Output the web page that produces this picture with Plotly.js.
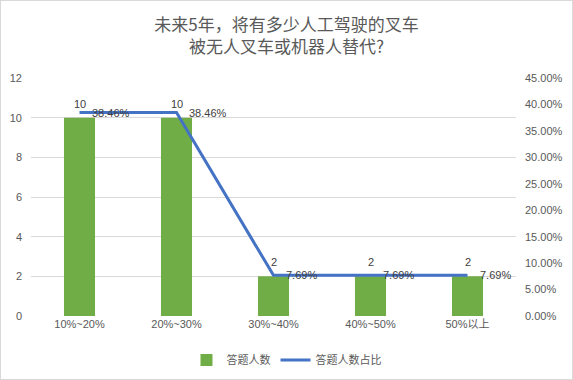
<!DOCTYPE html>
<html><head><meta charset="utf-8">
<script src="https://cdn.plot.ly/plotly-3.0.1.min.js"></script>
<style>
html,body{margin:0;padding:0;background:#fff;}
#chart{width:573px;height:380px;box-sizing:border-box;border:1px solid #d9d9d9;}
</style>
</head><body>
<div id="chart"></div>
<script>
var categories = ['10%~20%', '20%~30%', '30%~40%', '40%~50%', '50%以上'];
var counts = [10, 10, 2, 2, 2];
var shares = [0.3846, 0.3846, 0.0769, 0.0769, 0.0769];
var countName = '答题人数';
var shareName = '答题人数占比';
var titleText = '未来5年，将有多少人工驾驶的叉车<br>被无人叉车或机器人替代?';

var fontFam = '"Liberation Sans", "Noto Sans CJK SC", sans-serif';
var gray = '#595959';
var labelColor = '#404040';

var traces = [
  {
    type: 'bar', name: countName, x: categories, y: counts,
    marker: {color: '#70AD47'}, width: 0.32, hoverinfo: 'x+y'
  },
  {
    type: 'scatter', mode: 'lines', name: shareName, x: categories, y: shares,
    yaxis: 'y2', line: {color: '#4472C4', width: 3}
  }
];

var annotations = [];
categories.forEach(function(c, i){
  annotations.push({
    x: c, y: counts[i], xref: 'x', yref: 'y', text: String(counts[i]),
    showarrow: false, xanchor: 'center', yanchor: 'middle', yshift: 14,
    font: {family: fontFam, size: 11, color: labelColor}
  });
  annotations.push({
    x: c, y: shares[i], xref: 'x', yref: 'y2', text: (shares[i]*100).toFixed(2) + '%',
    showarrow: false, xanchor: 'left', yanchor: 'middle', xshift: 10,
    font: {family: fontFam, size: 11, color: labelColor}
  });
});

var layout = {
  width: 571, height: 378,
  margin: {l: 30, r: 56, t: 77, b: 63},
  paper_bgcolor: '#fff', plot_bgcolor: '#fff',
  font: {family: fontFam, size: 11, color: gray},
  title: {
    text: titleText, x: 0.5, xref: 'container', xanchor: 'center',
    y: 0.92, yref: 'container', yanchor: 'middle', automargin: false,
    font: {family: '"Noto Sans CJK SC", sans-serif', size: 17, color: gray}
  },
  annotations: annotations,
  xaxis: {
    type: 'category', showgrid: false, zeroline: false, showline: false,
    ticks: '', tickfont: {size: 11, color: gray}, fixedrange: true
  },
  yaxis: {
    range: [0, 12], dtick: 2, showgrid: true, gridcolor: '#d9d9d9', gridwidth: 1,
    zeroline: false, showline: false, ticks: '', ticklabelstandoff: 8,
    tickfont: {size: 11, color: gray}
  },
  yaxis2: {
    overlaying: 'y', side: 'right', range: [0, 0.45], dtick: 0.05,
    tickformat: '.2%', showgrid: false, zeroline: false, showline: false, ticks: '',
    ticklabelstandoff: 8,
    tickfont: {size: 11, color: gray}
  },
  legend: {
    orientation: 'h', x: 0.5, xref: 'container', xanchor: 'center',
    y: 0.05, yref: 'container', yanchor: 'middle',
    font: {family: '"Noto Sans CJK SC", sans-serif', size: 11, color: gray},
    itemwidth: 30
  },
  showlegend: true
};

Plotly.newPlot('chart', traces, layout, {displayModeBar: false, staticPlot: true});
</script>
</body></html>
